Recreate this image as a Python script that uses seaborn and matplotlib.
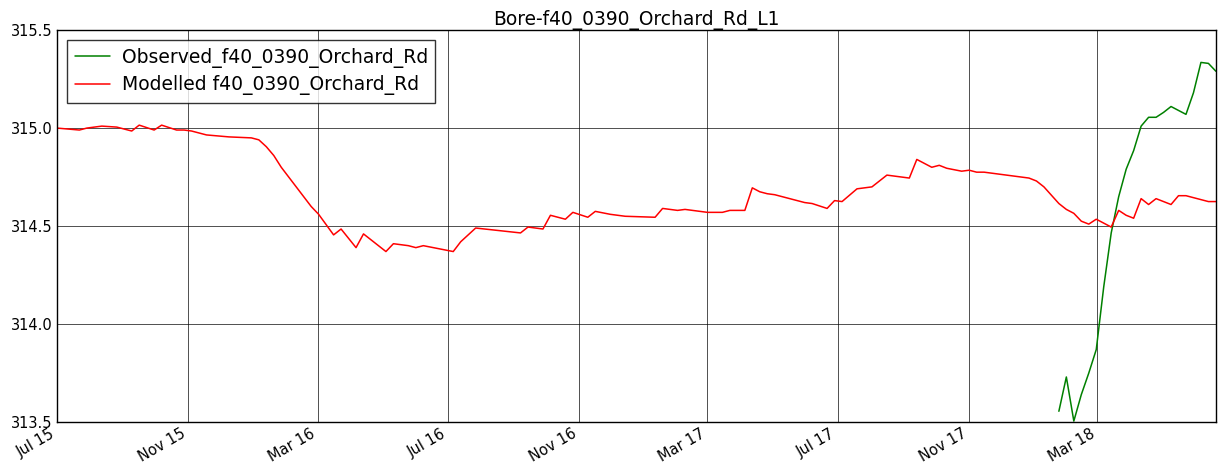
import pandas as pd
import matplotlib
matplotlib.use("Agg")
import matplotlib.pyplot as plt
import matplotlib.dates as mdates
import seaborn as sns

# weekly series, week 0 = 1 Jul 2015; only the kink points are kept
START = pd.Timestamp("2015-07-01")

modelled_weeks = [0, 3, 4, 6, 8, 10, 11, 13, 14, 16, 17, 18, 20, 23, 26, 27, 28, 29, 30, 32, 34,
                  35, 37, 38, 40, 41, 42, 44, 45, 47, 48, 49, 53, 54, 56, 62, 63, 65, 66, 68, 69,
                  71, 72, 74, 76, 80, 81, 83, 84, 87, 89, 90, 92, 93, 94, 95, 96, 98, 100, 101, 103,
                  104, 105, 107, 109, 111, 114, 115, 116, 117, 118, 119, 121, 122, 123, 124, 126, 128, 130, 131, 132,
                  134, 135, 136, 137, 138, 139, 141, 142, 143, 144, 145, 146, 147, 149, 150, 151, 154, 155]
modelled_level = [315.00, 314.99, 315.00, 315.01, 315.005, 314.985, 315.015, 314.99, 315.015, 314.99,
                  314.99, 314.985, 314.965, 314.955, 314.95, 314.94, 314.905, 314.86, 314.80, 314.70, 314.60,
                  314.56, 314.455, 314.485, 314.39, 314.46, 314.43, 314.37, 314.41, 314.40, 314.39,
                  314.40, 314.37, 314.42, 314.49, 314.465, 314.495, 314.485, 314.555, 314.535, 314.57,
                  314.545, 314.575, 314.56, 314.55, 314.545, 314.59, 314.58, 314.585, 314.57, 314.57,
                  314.58, 314.58, 314.695, 314.675, 314.665, 314.66, 314.64, 314.62, 314.615, 314.59,
                  314.63, 314.625, 314.69, 314.70, 314.76, 314.745, 314.84, 314.82, 314.80, 314.81,
                  314.795, 314.78, 314.785, 314.775, 314.775, 314.765, 314.755, 314.745, 314.73, 314.70,
                  314.615, 314.585, 314.565, 314.525, 314.51, 314.535, 314.495, 314.58, 314.555, 314.54,
                  314.64, 314.61, 314.64, 314.61, 314.655, 314.655, 314.625, 314.625]

observed_weeks = [134, 135, 136, 137, 138, 139, 140, 141, 142, 143, 144, 145,
                  146, 147, 148, 149, 151, 152, 153, 154, 155]
observed_level = [313.555, 313.73, 313.505, 313.64, 313.75, 313.87, 314.19, 314.465, 314.65, 314.79,
                  314.885, 315.01, 315.055, 315.055, 315.08, 315.11, 315.07, 315.18, 315.335, 315.33, 315.29]

TITLE = "Bore-f40_0390_Orchard_Rd_L1"
OBS_LABEL = "Observed_f40_0390_Orchard_Rd"
MOD_LABEL = "Modelled f40_0390_Orchard_Rd"
Y_TICKS = [313.5, 314.0, 314.5, 315.0, 315.5]

sns.set_theme(style="white")
plt.rcParams["font.family"] = ["DejaVu Sans"]
plt.rcParams["text.color"] = "black"
plt.rcParams["xtick.direction"] = "in"
plt.rcParams["ytick.direction"] = "in"


def to_dates(weeks):
    return [START + pd.Timedelta(days=7 * w) for w in weeks]


obs = pd.DataFrame({"date": to_dates(observed_weeks), "level": observed_level})
mod = pd.DataFrame({"date": to_dates(modelled_weeks), "level": modelled_level})

fig, ax = plt.subplots(figsize=(12.22, 4.70), dpi=100)
fig.subplots_adjust(left=0.0466, right=0.995, top=0.936, bottom=0.102)

sns.lineplot(data=obs, x="date", y="level", color="#008000", lw=1.1, label=OBS_LABEL, ax=ax)
sns.lineplot(data=mod, x="date", y="level", color="#ff0000", lw=1.1, label=MOD_LABEL, ax=ax)

ax.set_xlim(START, mod["date"].max())
ax.set_ylim(313.5, 315.5)
ax.set_yticks(Y_TICKS)
ax.yaxis.set_major_formatter(matplotlib.ticker.FormatStrFormatter("%.1f"))
ax.xaxis.set_major_locator(mdates.MonthLocator(bymonth=[3, 7, 11]))
ax.xaxis.set_major_formatter(mdates.DateFormatter("%b %y"))
for lab in ax.get_xticklabels():
    lab.set_rotation(30)
    lab.set_ha("right")
ax.tick_params(axis="both", labelsize=10.5, colors="black", length=4, pad=3)
ax.set_xlabel("")
ax.set_ylabel("")
ax.set_title(TITLE, fontsize=13.4, pad=4, color="black")

ax.grid(True, color="black", lw=0.6, alpha=0.8)
for sp in ax.spines.values():
    sp.set_color("black")
    sp.set_linewidth(1.0)

leg = ax.legend(loc="upper left", fontsize=13.5, fancybox=False, frameon=True,
                handlelength=1.9, handletextpad=0.6, labelspacing=0.4, borderaxespad=0.55)
leg.get_frame().set_edgecolor("black")
leg.get_frame().set_linewidth(1.0)
for t in leg.get_texts():
    t.set_color("black")

fig.savefig("out.png", dpi=100)
